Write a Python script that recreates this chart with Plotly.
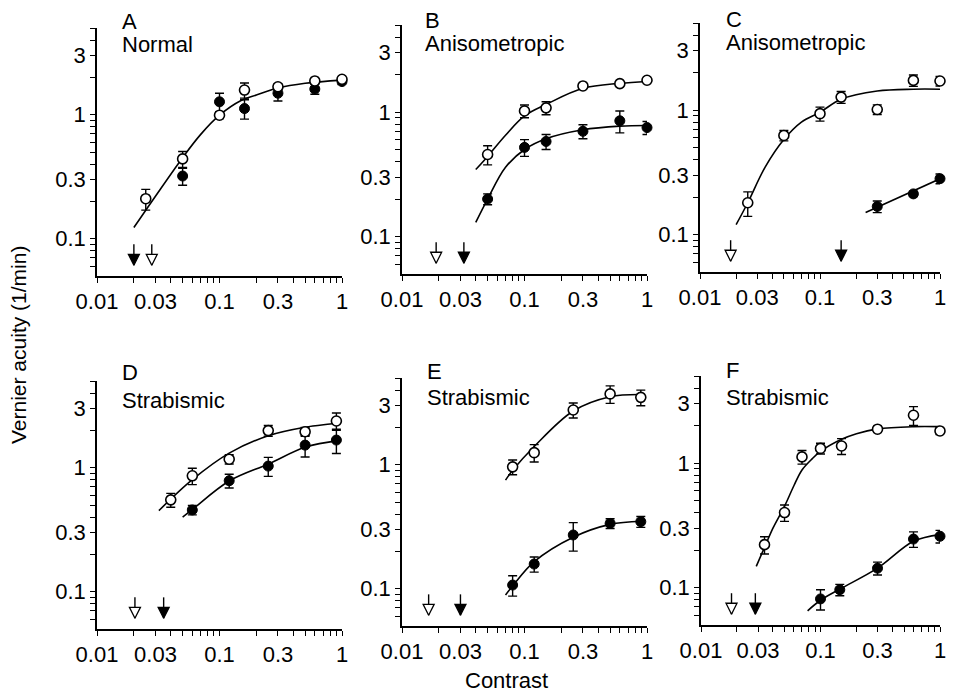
import plotly.graph_objects as go

# ---------------- data ----------------
# Panel A - Normal
A_open_x = [0.025, 0.05, 0.1, 0.16, 0.3, 0.6, 1.0]
A_open_y = [0.21, 0.44, 0.99, 1.58, 1.68, 1.87, 1.93]
A_open_err = [0.04, 0.065, 0.06, 0.22, 0.1, 0.08, 0.08]
A_fill_x = [0.05, 0.1, 0.16, 0.3, 0.6, 1.0]
A_fill_y = [0.32, 1.27, 1.12, 1.49, 1.61, 1.85]
A_fill_err = [0.05, 0.22, 0.2, 0.2, 0.15, 0.1]
A_open_fit_x = [0.02, 0.03, 0.05, 0.07, 0.1, 0.15, 0.2, 0.3, 0.5, 1.0]
A_open_fit_y = [0.123, 0.22, 0.45, 0.69, 0.99, 1.30, 1.44, 1.64, 1.79, 1.90]
A_fill_fit_x = []
A_fill_fit_y = []
A_arrow_open = [0.028]
A_arrow_fill = [0.02]

# Panel B - Anisometropic
B_open_x = [0.05, 0.1, 0.15, 0.3, 0.6, 1.0]
B_open_y = [0.456, 1.02, 1.08, 1.62, 1.69, 1.8]
B_open_err = [0.08, 0.12, 0.13, 0.06, 0.06, 0.06]
B_fill_x = [0.05, 0.1, 0.15, 0.3, 0.6, 1.0]
B_fill_y = [0.2, 0.52, 0.58, 0.7, 0.85, 0.75]
B_fill_err = [0.02, 0.08, 0.08, 0.09, 0.17, 0.09]
B_open_fit_x = [0.04, 0.05, 0.07, 0.1, 0.15, 0.3, 0.6, 1.0]
B_open_fit_y = [0.345, 0.44, 0.65, 0.93, 1.15, 1.55, 1.70, 1.76]
B_fill_fit_x = [0.04, 0.05, 0.07, 0.1, 0.15, 0.3, 0.6, 1.0]
B_fill_fit_y = [0.13, 0.2, 0.36, 0.50, 0.61, 0.72, 0.77, 0.78]
B_arrow_open = [0.019]
B_arrow_fill = [0.032]

# Panel C - Anisometropic
C_open_x = [0.025, 0.05, 0.1, 0.15, 0.3, 0.6, 1.0]
C_open_y = [0.18, 0.625, 0.935, 1.27, 1.01, 1.73, 1.71]
C_open_err = [0.04, 0.06, 0.12, 0.14, 0.09, 0.18, 0.15]
C_fill_x = [0.3, 0.6, 1.0]
C_fill_y = [0.168, 0.212, 0.281]
C_fill_err = [0.018, 0.01, 0.025]
C_open_fit_x = [0.02, 0.025, 0.035, 0.05, 0.07, 0.1, 0.15, 0.3, 0.6, 1.0]
C_open_fit_y = [0.12, 0.18, 0.35, 0.58, 0.80, 0.96, 1.22, 1.42, 1.47, 1.47]
C_fill_fit_x = [0.24, 1.0]
C_fill_fit_y = [0.15, 0.28]
C_arrow_open = [0.018]
C_arrow_fill = [0.15]

# Panel D - Strabismic
D_open_x = [0.04, 0.06, 0.12, 0.25, 0.5, 0.9]
D_open_y = [0.55, 0.86, 1.17, 1.99, 1.95, 2.38]
D_open_err = [0.07, 0.13, 0.1, 0.2, 0.16, 0.38]
D_fill_x = [0.06, 0.12, 0.25, 0.5, 0.9]
D_fill_y = [0.456, 0.785, 1.03, 1.52, 1.67]
D_fill_err = [0.04, 0.1, 0.18, 0.3, 0.37]
D_open_fit_x = [0.032, 0.06, 0.12, 0.25, 0.5, 0.8, 0.95]
D_open_fit_y = [0.45, 0.80, 1.31, 1.81, 2.12, 2.25, 2.3]
D_fill_fit_x = [0.05, 0.06, 0.12, 0.25, 0.5, 0.95]
D_fill_fit_y = [0.40, 0.46, 0.78, 1.07, 1.46, 1.66]
D_arrow_open = [0.0204]
D_arrow_fill = [0.035]

# Panel E - Strabismic
E_open_x = [0.08, 0.12, 0.25, 0.5, 0.89]
E_open_y = [0.96, 1.25, 2.76, 3.72, 3.49]
E_open_err = [0.13, 0.2, 0.38, 0.6, 0.5]
E_fill_x = [0.08, 0.12, 0.25, 0.5, 0.89]
E_fill_y = [0.107, 0.158, 0.271, 0.336, 0.347]
E_fill_err = [0.02, 0.022, 0.07, 0.03, 0.035]
E_open_fit_x = [0.07, 0.08, 0.12, 0.25, 0.5, 0.9]
E_open_fit_y = [0.75, 0.9, 1.4, 2.71, 3.53, 3.68]
E_fill_fit_x = [0.07, 0.08, 0.12, 0.25, 0.5, 0.9]
E_fill_fit_y = [0.089, 0.105, 0.165, 0.26, 0.33, 0.35]
E_arrow_open = [0.0165]
E_arrow_fill = [0.03]

# Panel F - Strabismic
F_open_x = [0.034, 0.05, 0.07, 0.1, 0.15, 0.3, 0.6, 1.0]
F_open_y = [0.221, 0.40, 1.12, 1.31, 1.37, 1.87, 2.42, 1.81]
F_open_err = [0.035, 0.06, 0.14, 0.13, 0.2, 0.1, 0.42, 0.12]
F_fill_x = [0.1, 0.145, 0.3, 0.6, 1.0]
F_fill_y = [0.081, 0.096, 0.143, 0.245, 0.258]
F_fill_err = [0.015, 0.01, 0.017, 0.035, 0.03]
F_open_fit_x = [0.029, 0.034, 0.04, 0.05, 0.06, 0.07, 0.085, 0.1, 0.15, 0.2, 0.3, 0.6, 1.0]
F_open_fit_y = [0.148, 0.21, 0.30, 0.45, 0.66, 0.88, 1.08, 1.24, 1.55, 1.72, 1.88, 1.96, 1.96]
F_fill_fit_x = [0.078, 0.1, 0.145, 0.3, 0.6, 1.0]
F_fill_fit_y = [0.065, 0.079, 0.097, 0.143, 0.235, 0.266]
F_arrow_open = [0.018]
F_arrow_fill = [0.0285]

panel_letters = ["A", "B", "C", "D", "E", "F"]
panel_names = ["Normal", "Anisometropic", "Anisometropic", "Strabismic", "Strabismic", "Strabismic"]

x_tick_vals = [0.01, 0.03, 0.1, 0.3, 1]
x_tick_text = ["0.01", "0.03", "0.1", "0.3", "1"]
x_minor_vals = [0.02, 0.04, 0.05, 0.06, 0.07, 0.08, 0.09, 0.2, 0.4, 0.5, 0.6, 0.7, 0.8, 0.9]
y_tick_vals = [0.1, 0.3, 1, 3]
y_tick_text = ["0.1", "0.3", "1", "3"]
y_minor_vals = [0.06, 0.07, 0.08, 0.09, 0.2, 0.4, 0.5, 0.6, 0.7, 0.8, 0.9, 2, 4, 5]

x_title = "Contrast"
y_title = "Vernier acuity (1/min)"

# ---------------- layout geometry (screen pixels) ----------------
W, H = 954, 695
OFF = 8  # page body margin in the browser
# (left, right, top, bottom) of each panel's plotting area, in screen pixels
boxes = [
    (97, 342, 28, 276), (402, 647, 25, 274), (700, 940, 23, 272),
    (97, 342, 381, 629), (402, 647, 378, 626), (701, 940, 376, 625),
]
letter_pos = [(120, 22, 44), (423, 21, 43), (724, 19, 42),
              (120, 372, 400), (425, 371, 397), (724, 370, 397)]


def fx_(px):
    return (px - OFF) / W


def fy_(py):
    return 1 - (py - OFF) / H


FONT = "Liberation Sans, Arial, sans-serif"
FS = 22
ARROW_TOP = 0.09
ARROW_TIP = 0.061

panels = [
    (A_open_x, A_open_y, A_open_err, A_fill_x, A_fill_y, A_fill_err,
     A_open_fit_x, A_open_fit_y, A_fill_fit_x, A_fill_fit_y, A_arrow_open, A_arrow_fill),
    (B_open_x, B_open_y, B_open_err, B_fill_x, B_fill_y, B_fill_err,
     B_open_fit_x, B_open_fit_y, B_fill_fit_x, B_fill_fit_y, B_arrow_open, B_arrow_fill),
    (C_open_x, C_open_y, C_open_err, C_fill_x, C_fill_y, C_fill_err,
     C_open_fit_x, C_open_fit_y, C_fill_fit_x, C_fill_fit_y, C_arrow_open, C_arrow_fill),
    (D_open_x, D_open_y, D_open_err, D_fill_x, D_fill_y, D_fill_err,
     D_open_fit_x, D_open_fit_y, D_fill_fit_x, D_fill_fit_y, D_arrow_open, D_arrow_fill),
    (E_open_x, E_open_y, E_open_err, E_fill_x, E_fill_y, E_fill_err,
     E_open_fit_x, E_open_fit_y, E_fill_fit_x, E_fill_fit_y, E_arrow_open, E_arrow_fill),
    (F_open_x, F_open_y, F_open_err, F_fill_x, F_fill_y, F_fill_err,
     F_open_fit_x, F_open_fit_y, F_fill_fit_x, F_fill_fit_y, F_arrow_open, F_arrow_fill),
]

fig = go.Figure()
layout = {}
annotations = []

for i, (ox, oy, oe, fx, fy, fe, ofx, ofy, ffx, ffy, ao, af) in enumerate(panels):
    n = "" if i == 0 else str(i + 1)
    xa, ya = "x" + n, "y" + n
    l, r, t, b = boxes[i]
    common = dict(type="log", showline=True, linecolor="black", linewidth=1.6,
                  ticks="outside", ticklen=5, tickwidth=1.3, tickcolor="black",
                  showgrid=False, zeroline=False, automargin=False,
                  tickfont=dict(family=FONT, size=FS, color="black"))
    layout["xaxis" + n] = dict(common, domain=[fx_(l), fx_(r)], anchor=ya,
                               range=[-2, 0], tickmode="array",
                               tickvals=x_tick_vals, ticktext=x_tick_text,
                               minor=dict(tickmode="array", tickvals=x_minor_vals,
                                          ticks="outside", ticklen=5, tickwidth=1.2,
                                          tickcolor="black", showgrid=False))
    layout["yaxis" + n] = dict(common, domain=[fy_(b), fy_(t)], anchor=xa,
                               range=[-1.30103, 0.69897], tickmode="array",
                               tickvals=y_tick_vals, ticktext=y_tick_text,
                               minor=dict(tickmode="array", tickvals=y_minor_vals,
                                          ticks="outside", ticklen=5, tickwidth=1.2,
                                          tickcolor="black", showgrid=False))

    # fitted curves
    for cx, cy in ((ofx, ofy), (ffx, ffy)):
        if cx:
            fig.add_trace(go.Scatter(x=cx, y=cy, mode="lines", xaxis=xa, yaxis=ya,
                                     line=dict(color="black", width=1.6, shape="spline",
                                               smoothing=1.0),
                                     showlegend=False, hoverinfo="skip", cliponaxis=False))
    # filled symbols
    fig.add_trace(go.Scatter(x=fx, y=fy, mode="markers", xaxis=xa, yaxis=ya,
                             error_y=dict(type="data", array=fe, arrayminus=fe, color="black",
                                          thickness=1.4, width=4.5),
                             marker=dict(symbol="circle", size=10, color="black",
                                         line=dict(color="black", width=1)),
                             showlegend=False, cliponaxis=False))
    # open symbols
    fig.add_trace(go.Scatter(x=ox, y=oy, mode="markers", xaxis=xa, yaxis=ya,
                             error_y=dict(type="data", array=oe, arrayminus=oe, color="black",
                                          thickness=1.4, width=4.5),
                             marker=dict(symbol="circle", size=10, color="white",
                                         line=dict(color="black", width=1.6)),
                             showlegend=False, cliponaxis=False))
    # threshold arrows
    for ax_vals, fill in ((ao, "white"), (af, "black")):
        stem = [ARROW_TOP - ARROW_TIP] * len(ax_vals)
        fig.add_trace(go.Scatter(x=ax_vals, y=[ARROW_TIP] * len(ax_vals), mode="markers",
                                 xaxis=xa, yaxis=ya,
                                 error_y=dict(type="data", array=stem,
                                              arrayminus=[0] * len(ax_vals),
                                              color="black", thickness=1.4, width=0),
                                 marker=dict(symbol="arrow-down", size=11, color=fill,
                                             line=dict(color="black", width=1.3)),
                                 showlegend=False, cliponaxis=False))

    lx, ly1, ly2 = letter_pos[i]
    annotations.append(dict(text=panel_letters[i], x=fx_(lx), y=fy_(ly1),
                            xref="paper", yref="paper", xanchor="left", yanchor="middle",
                            showarrow=False, font=dict(family=FONT, size=FS, color="black")))
    annotations.append(dict(text=panel_names[i], x=fx_(lx), y=fy_(ly2),
                            xref="paper", yref="paper", xanchor="left", yanchor="middle",
                            showarrow=False, font=dict(family=FONT, size=FS, color="black")))

annotations.append(dict(text=x_title, x=fx_(507), y=fy_(680), xref="paper", yref="paper",
                        xanchor="center", yanchor="middle", showarrow=False,
                        font=dict(family=FONT, size=FS, color="black")))
annotations.append(dict(text=y_title, x=fx_(18), y=fy_(345), xref="paper", yref="paper",
                        xanchor="center", yanchor="middle", showarrow=False, textangle=-90,
                        font=dict(family=FONT, size=21, color="black")))

fig.update_layout(template="none", width=W, height=H, margin=dict(l=0, r=0, t=0, b=0),
                  paper_bgcolor="white", plot_bgcolor="white",
                  annotations=annotations, **layout)

fig.write_html("out.html")
